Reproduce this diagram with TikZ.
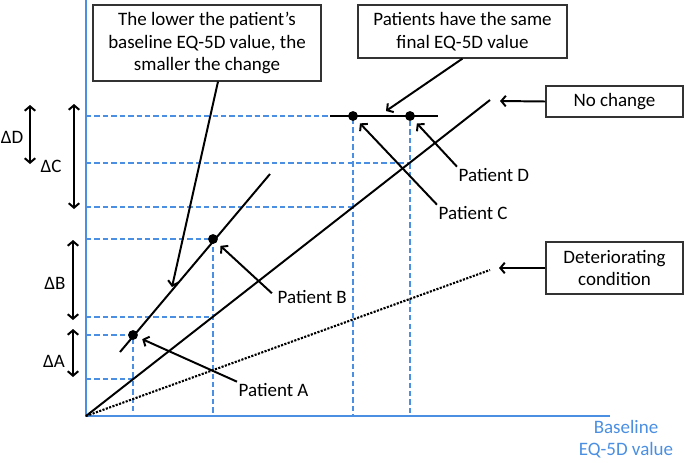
\documentclass[tikz,border=0pt]{standalone}
\usepackage{fontspec}
\setmainfont{Carlito}
\usetikzlibrary{arrows.meta}
\definecolor{azuleje}{RGB}{74,143,226}
\tikzset{
  caja/.style={draw=black!80,line width=0.8pt,fill=white,align=center,inner sep=2pt},
  guia/.style={azuleje,line width=1.35pt,dash pattern=on 3.8pt off 2.2pt},
  recta/.style={line width=1.4pt},
  flecha/.style={line width=1.4pt,-{Straight Barb[length=3.2pt,width=7.5pt]}},
  dflecha/.style={line width=1.4pt,{Straight Barb[length=3.2pt,width=7.5pt]}-{Straight Barb[length=3.2pt,width=7.5pt]}},
  punto/.style={circle,fill=black,inner sep=0pt,minimum size=7pt},
  etiq/.style={inner sep=1pt,anchor=west}
}

\begin{document}
\begin{tikzpicture}[x=0.025cm,y=-0.025cm,font=\fontsize{13.5}{16}\selectfont]
\useasboundingbox (0,0) rectangle (685,462);

%Lineas guia
\foreach \x/\yf/\yb in {133/335/379, 213/239/317, 353/116/207, 410/116/163}{
    \draw[guia] (86,\yf) -- (\x,\yf) -- (\x,416);
    \draw[guia] (86,\yb) -- (\x,\yb);
}

%Ejes
\coordinate (O) at (86,416);
\draw[azuleje,line width=2pt] (86,0) -- (O) -- (610,416);
\node[azuleje,align=center] (ejex) at (626,439) {Baseline\\EQ-5D value};

%Rectas
\coordinate (nc) at (490,100);
\coordinate (det) at (490,270);
\draw[recta] (O) -- (nc);
\draw[recta,line width=1.5pt,densely dotted] (O) -- (det);
\draw[recta] (120,352) -- (270,174);
\draw[recta] (330,116) -- (438,116);

%Pacientes
\node[punto] (pA) at (133,335) {};
\node[punto] (pB) at (213,239) {};
\node[punto] (pC) at (353,116) {};
\node[punto] (pD) at (410,116) {};
\node[etiq] (lA) at (237,390) {Patient A};
\node[etiq] (lB) at (276,297) {Patient B};
\node[etiq] (lC) at (437,213) {Patient C};
\node[etiq] (lD) at (457,175) {Patient D};
\draw[flecha,shorten >=3.5pt] (lA.north west) -- (pA);
\draw[flecha,shorten >=3.5pt,shorten <=4pt] (lB.west) -- (pB);
\draw[flecha,shorten >=3.5pt] (lC.north west) -- (pC);
\draw[flecha,shorten >=3.5pt] (lD.north west) -- (pD);

%Cajas
\node[caja,minimum width=5.7cm,minimum height=1.9cm] (caja1) at (207,43)
    {The lower the patient’s\\baseline EQ-5D value, the\\smaller the change};
\node[caja,minimum width=5.225cm,minimum height=1.325cm] (caja2) at (462.5,31.5)
    {Patients have the same\\final EQ-5D value};
\node[caja,minimum width=3.425cm,minimum height=0.775cm] (caja3) at (614.5,101.5) {No change};
\node[caja,minimum width=3.425cm,minimum height=1.3cm] (caja4) at (614.5,268)
    {Deteriorating\\condition};
\coordinate (t1) at (172,287);
\coordinate (t2) at (386,111);
\coordinate (t3) at (500,101);
\coordinate (t4) at (499,268);
\draw[flecha] ([xshift=0.275cm]caja1.south) -- (t1);
\draw[flecha] (caja2.south) -- (t2);
\draw[flecha] (caja3.west) -- (t3);
\draw[flecha] (caja4.west) -- (t4);

%Diferencias
\foreach \n/\x/\ya/\yb/\lx/\ly/\t in {dD/30/105/164/12/137/D, dC/74/104/209/51/166/C,
    dB/73/240/320/55/283/B, dA/73/329/377/54/361/A}{
    \draw[dflecha] (\x,\ya) -- (\x,\yb);
    \node (\n) at (\lx,\ly) {Δ\t};
}
\end{tikzpicture}
\end{document}
